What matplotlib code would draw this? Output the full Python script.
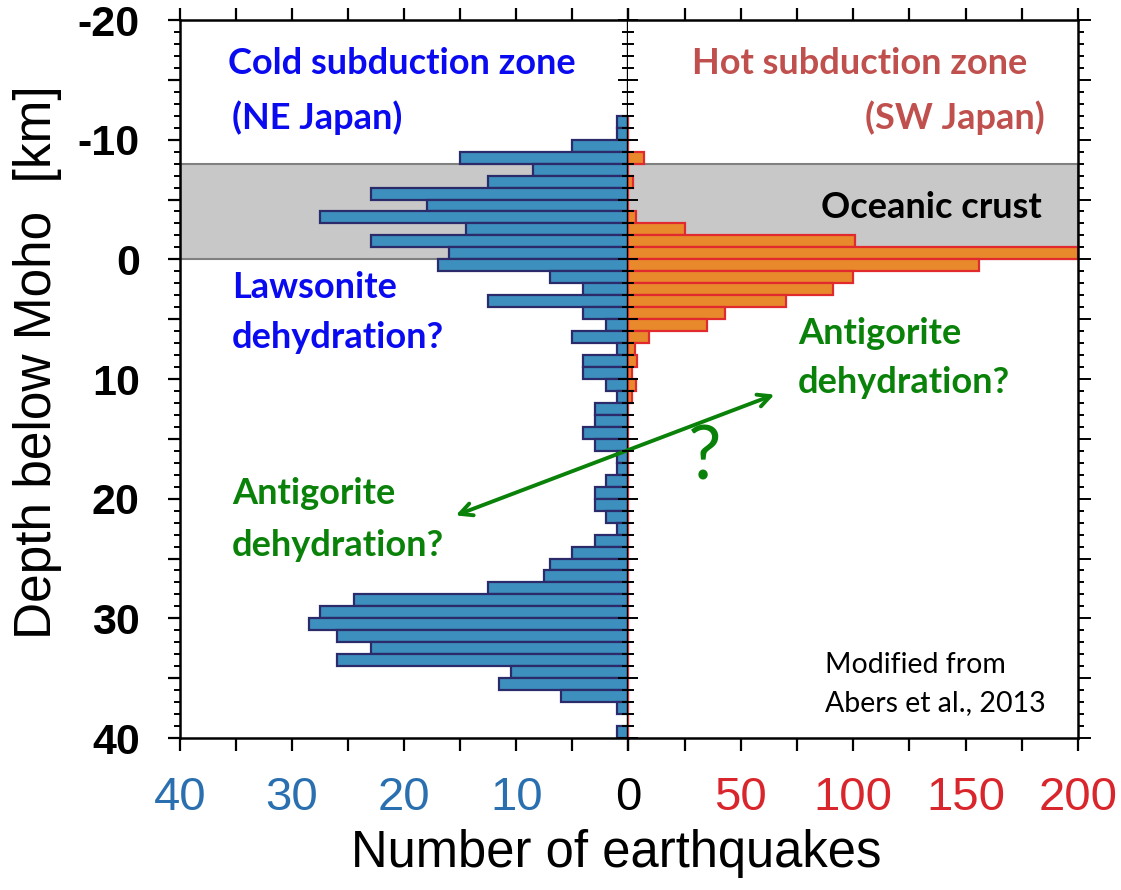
import numpy as np
import matplotlib.pyplot as plt
from matplotlib.ticker import FixedLocator, MultipleLocator

# depth bins (top edge, km below Moho), 1 km wide
depth = list(range(-12, 40))

# NE Japan (cold) counts per bin
cold = [1, 1, 5, 15, 8.5, 12.5, 23, 18, 27.5, 14.5, 23, 16,
        17, 7, 4, 12.5, 4, 2, 5, 1, 4, 4, 2, 1, 3, 3, 4, 3, 1, 1,
        2, 3, 3, 2, 1, 3, 5, 7, 7.5, 12.5, 24.5, 27.5, 28.5, 26, 23, 26,
        10.5, 11.5, 6, 1, 0, 1]

# SW Japan (hot) counts per bin
hot = [0, 0, 0, 7, 0, 2, 0, 0, 3.5, 25, 101, 200,
       156, 100, 91, 70, 43, 35, 9, 3, 4, 1.5, 3.5, 1.5, 0, 0, 0, 0, 0, 0,
       0, 0, 0, 0, 0, 0, 0, 0, 0, 0, 0, 0, 0, 0, 0, 0,
       0, 0, 0, 0, 0, 0]

crust_top, crust_bot = -8, 0

left_ticks = [40, 35, 30, 25, 20, 15, 10, 5, 0]
left_labels = ['40', '', '30', '', '20', '', '10', '', '0']
right_ticks = [0, 25, 50, 75, 100, 125, 150, 175, 200]
right_labels = ['', '', '50', '', '100', '', '150', '', '200']
y_ticks = [-20, -15, -10, -5, 0, 5, 10, 15, 20, 25, 30, 35, 40]
y_labels = ['-20', '', '-10', '', '0', '', '10', '', '20', '', '30', '', '40']

sans = ['Liberation Sans', 'DejaVu Sans']
txtfont = ['Lato', 'DejaVu Sans']

fig = plt.figure(figsize=(11.21, 8.90), dpi=100)
L, R, B, T = 180 / 1121, 1078 / 1121, 1 - 738 / 890, 1 - 20 / 890
mid = 628.3 / 1121
ax_l = fig.add_axes([L, B, mid - L, T - B])
ax_r = fig.add_axes([mid, B, R - mid, T - B])

yc = np.array(depth) + 0.5
for ax in (ax_l, ax_r):
    ax.set_ylim(40, -20)
    ax.axhspan(crust_top, crust_bot, facecolor='#c8c8c8', edgecolor='#808080', lw=1.5, zorder=0)
    for s in ax.spines.values():
        s.set_linewidth(1.8)

ax_l.barh(yc, cold, height=1.0, color='#3d8fbd', edgecolor='#2b2a6a', lw=1.6, zorder=2)
ax_r.barh(yc, hot, height=1.0, color='#e8892b', edgecolor='#e02a2e', lw=1.6, zorder=2)

ax_l.set_xlim(40, 0)
ax_r.set_xlim(0, 200)

# x ticks
ax_l.xaxis.set_major_locator(FixedLocator(left_ticks))
ax_l.set_xticklabels(left_labels)
ax_r.xaxis.set_major_locator(FixedLocator(right_ticks))
ax_r.set_xticklabels(right_labels)
for ax in (ax_l, ax_r):
    ax.tick_params(axis='x', which='major', direction='out', top=True, bottom=True,
                   length=9, width=1.6, pad=18, labelsize=34)
    for t in ax.get_xticklabels():
        t.set_fontfamily(sans)
for t in ax_l.get_xticklabels():
    t.set_color('#2a6fb0' if t.get_text() != '0' else 'black')
for t in ax_r.get_xticklabels():
    t.set_color('#d9262c')

# y ticks
ax_l.yaxis.set_major_locator(FixedLocator(y_ticks))
ax_l.set_yticklabels(y_labels)
ax_l.yaxis.set_minor_locator(MultipleLocator(1))
ax_l.tick_params(axis='y', which='major', direction='out', left=True, right=False,
                 length=9, width=1.6, pad=20, labelsize=31)
ax_l.tick_params(axis='y', which='minor', direction='out', left=True, right=False,
                 length=4.5, width=1.4)
for t in ax_l.get_yticklabels():
    t.set_fontfamily(sans)
    t.set_fontweight('bold')

ax_r.yaxis.set_major_locator(MultipleLocator(5))
ax_r.yaxis.set_minor_locator(MultipleLocator(1))
ax_r.tick_params(axis='y', which='both', left=False, right=True, labelleft=False,
                 direction='out', width=1.4)
ax_r.tick_params(axis='y', which='major', length=9)
ax_r.tick_params(axis='y', which='minor', length=4.5)

# centre line ticks
tw = ax_l.twinx()
tw.set_ylim(40, -20)
tw.yaxis.set_major_locator(MultipleLocator(5))
tw.yaxis.set_minor_locator(MultipleLocator(1))
tw.tick_params(axis='y', which='both', direction='inout', labelright=False, width=1.4)
tw.tick_params(axis='y', which='major', length=14)
tw.tick_params(axis='y', which='minor', length=9)
for s in tw.spines.values():
    s.set_visible(False)
ax_l.axvline(0, color='black', lw=2.4, zorder=3)
ax_l.spines['right'].set_visible(False)
ax_r.spines['left'].set_visible(False)

fig.text(38 / 1121, 1 - 362 / 890, 'Depth below Moho  [km]', fontsize=37, family=sans,
         rotation=90, ha='center', va='center')
fig.text(616 / 1121, 1 - 853 / 890, 'Number of earthquakes', fontsize=36.5, family=sans,
         ha='center', va='center')


def ftext(x, y, s, **kw):
    fig.text(x / 1121, 1 - y / 890, s, va='center', family=txtfont, **kw)


blue, red, green = '#0a0af0', '#c0504d', '#0a820a'
fs = 26
ftext(228, 63, 'Cold subduction zone', color=blue, fontsize=fs, weight='bold')
ftext(232, 118, '(NE Japan)', color=blue, fontsize=fs, weight='bold')
ftext(1027, 63, 'Hot subduction zone', color=red, fontsize=fs, weight='bold', ha='right')
ftext(1045, 118, '(SW Japan)', color=red, fontsize=fs, weight='bold', ha='right')
ftext(1042, 207, 'Oceanic crust', color='black', fontsize=fs, weight='bold', ha='right')
ftext(232, 287, 'Lawsonite', color=blue, fontsize=fs, weight='bold')
ftext(232, 337, 'dehydration?', color=blue, fontsize=fs, weight='bold')
ftext(798, 333, 'Antigorite', color=green, fontsize=fs, weight='bold')
ftext(798, 383, 'dehydration?', color=green, fontsize=fs, weight='bold')
ftext(232, 493, 'Antigorite', color=green, fontsize=fs, weight='bold')
ftext(232, 545, 'dehydration?', color=green, fontsize=fs, weight='bold')
ftext(705, 458, '?', color=green, fontsize=54, ha='center')
ftext(825, 665, 'Modified from', color='black', fontsize=20.5)
ftext(825, 703, 'Abers et al., 2013', color='black', fontsize=20.5)

# double arrow across both panels
ax_r.annotate('', xy=(65, 11.3), xycoords=ax_r.transData,
              xytext=(15.4, 21.4), textcoords=ax_l.transData,
              arrowprops=dict(arrowstyle='<->,head_length=0.9,head_width=0.45',
                              color=green, lw=2.8, shrinkA=0, shrinkB=0),
              zorder=5)

fig.savefig('out.png', dpi=100)
